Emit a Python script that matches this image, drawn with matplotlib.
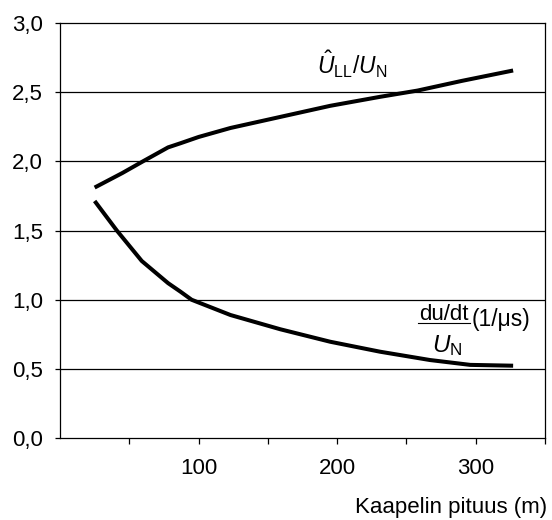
import matplotlib
matplotlib.use("Agg")
import matplotlib.pyplot as plt

plt.rcParams.update({
    "font.family": "Liberation Sans",
    "mathtext.fontset": "custom",
    "mathtext.rm": "Liberation Sans",
    "mathtext.it": "Liberation Sans:italic",
    "mathtext.sf": "Liberation Sans",
    "font.size": 16,
})

# values
length_upper = [25, 45, 60, 78, 87, 100, 123, 159, 195, 231, 258, 290, 327]
peak_ratio = [1.81, 1.915, 2.00, 2.10, 2.13, 2.175, 2.24, 2.32, 2.40, 2.465, 2.51, 2.58, 2.655]

length_lower = [25, 41, 59, 78, 87, 95, 123, 159, 195, 231, 267, 296, 327]
dudt_ratio = [1.713, 1.50, 1.28, 1.12, 1.058, 1.00, 0.89, 0.787, 0.697, 0.625, 0.565, 0.53, 0.524]

y_ticks = [0.0, 0.5, 1.0, 1.5, 2.0, 2.5, 3.0]
x_ticks = [50, 100, 150, 200, 250, 300, 350]
x_labels = ["", "100", "", "200", "", "300", ""]

W, H = 552, 520
fig = plt.figure(figsize=(W / 100, H / 100), dpi=100)
ax = fig.add_axes([60 / W, 1 - 438.3 / H, (545 - 60) / W, (438.3 - 22.7) / H])

for y in y_ticks[1:-1]:
    ax.axhline(y, color="black", lw=0.9, zorder=1)

ax.plot(length_upper, peak_ratio, color="black", lw=2.9, solid_capstyle="butt", zorder=3)
ax.plot(length_lower, dudt_ratio, color="black", lw=2.9, solid_capstyle="butt", zorder=3)

ax.set_xlim(0, 350)
ax.set_ylim(0, 3.0)
ax.set_yticks(y_ticks)
ax.set_yticklabels([f"{v:.1f}".replace(".", ",") for v in y_ticks])
ax.set_xticks(x_ticks)
ax.set_xticklabels(x_labels)
ax.tick_params(axis="x", direction="out", length=4.3, width=0.9, pad=10)
ax.tick_params(axis="y", direction="out", length=3.6, width=0.9, pad=8.5)
for s in ax.spines.values():
    s.set_linewidth(0.9)

ax.text(211, 2.70, r"$\hat{U}_{\mathrm{LL}}/U_{\mathrm{N}}$", ha="center", va="center", fontsize=16.5)

# du/dt over U_N, drawn as a stacked fraction
ax.text(277, 0.854, "du/dt", ha="center", va="baseline", fontsize=16)
ax.plot([258.3, 295.8], [0.829, 0.829], color="black", lw=0.8)
ax.text(279.5, 0.62, r"$U_{\mathrm{N}}$", ha="center", va="baseline", fontsize=17.5)
ax.text(297.3, 0.861, "(1/μs)", ha="left", va="center", fontsize=16.5)

fig.text(547 / W, 1 - 507 / H, "Kaapelin pituus (m)", ha="right", va="center", fontsize=16)

fig.savefig("out.png", dpi=100)
